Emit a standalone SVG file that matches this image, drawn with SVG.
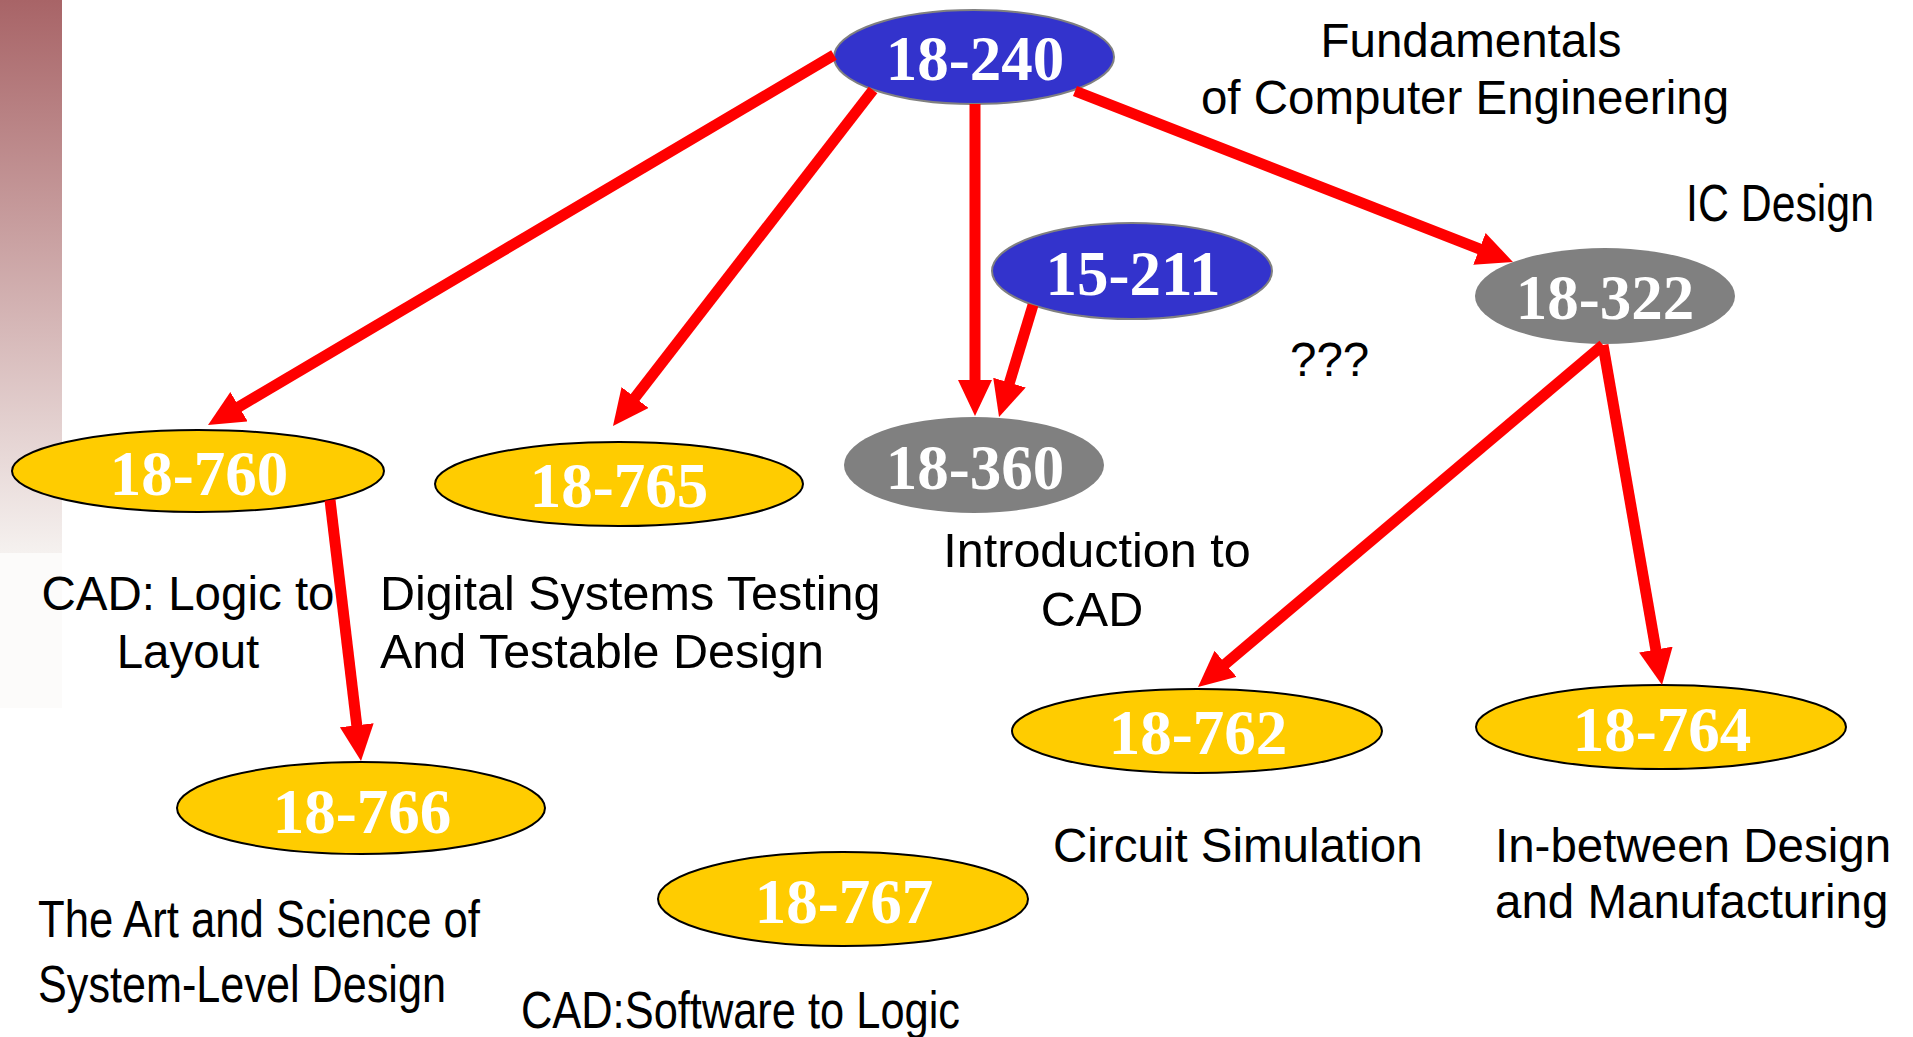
<svg xmlns="http://www.w3.org/2000/svg" width="1913" height="1037" viewBox="0 0 1913 1037">
  <defs>
    <linearGradient id="sideBar" x1="0" y1="0" x2="0" y2="1">
      <stop offset="0" stop-color="#a86467"/>
      <stop offset="1" stop-color="#f5f1ef"/>
    </linearGradient>
    <marker id="head" markerUnits="userSpaceOnUse" markerWidth="40" markerHeight="36" refX="2" refY="17" orient="auto">
      <path d="M0,0 L36,17 L0,34 Z" fill="#ff0000"/>
    </marker>
    <style>
      .yellow { fill: #ffcc00; stroke: #000000; stroke-width: 2; }
      .blue { fill: #3333cc; stroke: #808080; stroke-width: 2; }
      .grey { fill: #808080; stroke: none; }
      .code { font-family: "Liberation Serif", "Times New Roman", serif; font-weight: bold; font-size: 63px; fill: #ffffff; text-anchor: middle; }
      .label { font-family: "Liberation Sans", Arial, sans-serif; font-size: 47.5px; fill: #000000; }
      .big { font-size: 48.5px; }
      .narrow { font-family: "Liberation Sans Narrow", "Liberation Sans", Arial, sans-serif; font-size: 52px; fill: #000000; }
      .mid { text-anchor: middle; }
      .edge { stroke: #ff0000; stroke-width: 11; fill: none; marker-end: url(#head); }
    </style>
  </defs>

  <!-- decorative side band -->
  <rect x="0" y="0" width="62" height="553" fill="url(#sideBar)"/>
  <rect x="0" y="553" width="62" height="155" fill="#fcfbfa"/>

  <!-- course nodes -->
  <g id="n18-240">
    <ellipse class="blue" cx="974" cy="57" rx="140" ry="47"/>
    <text class="code" x="975" y="80">18-240</text>
  </g>
  <g id="n15-211">
    <ellipse class="blue" cx="1132" cy="271" rx="140" ry="48"/>
    <text class="code" x="1133" y="295">15-211</text>
  </g>
  <g id="n18-360">
    <ellipse class="grey" cx="974" cy="465" rx="130" ry="48"/>
    <text class="code" x="975" y="489">18-360</text>
  </g>
  <g id="n18-322">
    <ellipse class="grey" cx="1605" cy="296" rx="130" ry="48"/>
    <text class="code" x="1605" y="319">18-322</text>
  </g>
  <g id="n18-760">
    <ellipse class="yellow" cx="198" cy="471" rx="186" ry="41"/>
    <text class="code" x="199" y="495">18-760</text>
  </g>
  <g id="n18-765">
    <ellipse class="yellow" cx="619" cy="484" rx="184" ry="42"/>
    <text class="code" x="619" y="507">18-765</text>
  </g>
  <g id="n18-766">
    <ellipse class="yellow" cx="361" cy="808" rx="184" ry="46"/>
    <text class="code" x="362" y="833">18-766</text>
  </g>
  <g id="n18-767">
    <ellipse class="yellow" cx="843" cy="899" rx="185" ry="47"/>
    <text class="code" x="844" y="923">18-767</text>
  </g>
  <g id="n18-762">
    <ellipse class="yellow" cx="1197" cy="731" rx="185" ry="42"/>
    <text class="code" x="1198" y="754">18-762</text>
  </g>
  <g id="n18-764">
    <ellipse class="yellow" cx="1661" cy="727" rx="185" ry="42"/>
    <text class="code" x="1662" y="751">18-764</text>
  </g>

  <!-- prerequisite arrows -->
  <g id="connectors">
    <line class="edge" x1="834" y1="55" x2="237.3" y2="407.7"/>
    <line class="edge" x1="873" y1="90" x2="633.8" y2="399.1"/>
    <line class="edge" x1="975" y1="104" x2="975" y2="382"/>
    <line class="edge" x1="1033" y1="305" x2="1008.9" y2="384.5"/>
    <line class="edge" x1="1075" y1="91" x2="1481.3" y2="249.6"/>
    <line class="edge" x1="1603" y1="345" x2="1224" y2="665.1"/>
    <line class="edge" x1="1603" y1="345" x2="1656.2" y2="651.5"/>
    <line class="edge" x1="330" y1="500" x2="357" y2="727.2"/>
  </g>

  <!-- course titles -->
  <g id="titles">
    <text class="label mid" x="1471" y="57">Fundamentals</text>
    <text class="label mid" x="1465" y="114">of Computer Engineering</text>
    <text class="narrow" x="1686" y="221" textLength="188" lengthAdjust="spacingAndGlyphs">IC Design</text>
    <text class="label" x="1290" y="376">???</text>
    <text class="label big mid" x="1097" y="567">Introduction to</text>
    <text class="label big mid" x="1092" y="626">CAD</text>
    <text class="label mid" x="188" y="610">CAD: Logic to</text>
    <text class="label mid" x="188" y="668">Layout</text>
    <text class="label big" x="380" y="610">Digital Systems Testing</text>
    <text class="label big" x="380" y="668">And Testable Design</text>
    <text class="label" x="1053" y="862">Circuit Simulation</text>
    <text class="label" x="1495" y="862">In-between Design</text>
    <text class="label" x="1495" y="918">and Manufacturing</text>
    <text class="narrow" x="38" y="937" textLength="442" lengthAdjust="spacingAndGlyphs">The Art and Science of</text>
    <text class="narrow" x="38" y="1002" textLength="408" lengthAdjust="spacingAndGlyphs">System-Level Design</text>
    <text class="narrow" x="521" y="1028" textLength="439" lengthAdjust="spacingAndGlyphs">CAD:Software to Logic</text>
  </g>
</svg>
